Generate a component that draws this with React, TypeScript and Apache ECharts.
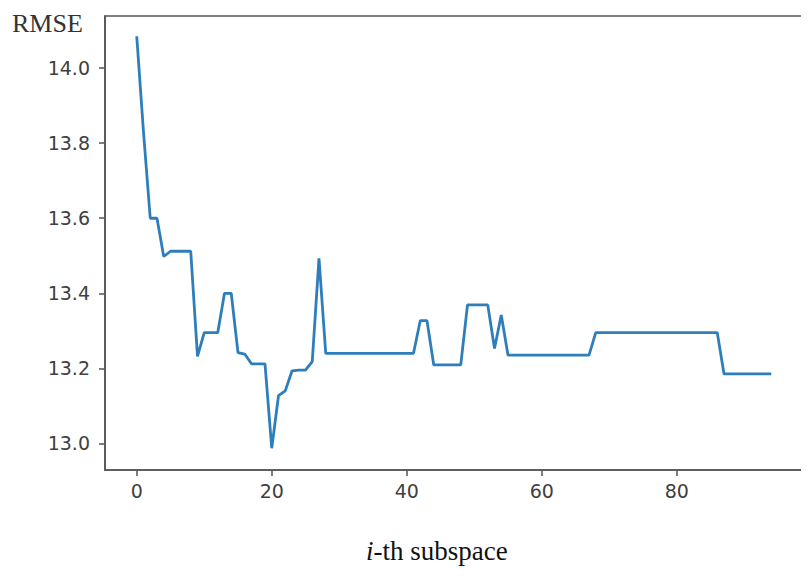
import React, { useEffect, useRef } from "react";
import * as echarts from "echarts";

const rmseValues: number[] = [
  14.085, 13.83, 13.6, 13.6, 13.498, 13.512, 13.512, 13.512, 13.512, 13.232,
  13.295, 13.295, 13.295, 13.4, 13.4, 13.242, 13.238, 13.212, 13.212, 13.212,
  12.987, 13.127, 13.14, 13.193, 13.195, 13.195, 13.218, 13.493, 13.24, 13.24,
  13.24, 13.24, 13.24, 13.24, 13.24, 13.24, 13.24, 13.24, 13.24, 13.24,
  13.24, 13.24, 13.327, 13.327, 13.209, 13.209, 13.209, 13.209, 13.209, 13.369,
  13.369, 13.369, 13.369, 13.253, 13.342, 13.235, 13.235, 13.235, 13.235, 13.235,
  13.235, 13.235, 13.235, 13.235, 13.235, 13.235, 13.235, 13.235, 13.295, 13.295,
  13.295, 13.295, 13.295, 13.295, 13.295, 13.295, 13.295, 13.295, 13.295, 13.295,
  13.295, 13.295, 13.295, 13.295, 13.295, 13.295, 13.295, 13.185, 13.185, 13.185,
  13.185, 13.185, 13.185, 13.185, 13.185,
];

const xTicks: number[] = [0, 20, 40, 60, 80];
const yTicks: number[] = [13.0, 13.2, 13.4, 13.6, 13.8, 14.0];

const yAxisTitle = "RMSE";
const xAxisTitlePrefix = "i";
const xAxisTitleRest = "-th subspace";

export default function App() {
  const ref = useRef<HTMLDivElement>(null);

  useEffect(() => {
    if (!ref.current) return;
    const chart = echarts.init(ref.current, undefined, { renderer: "svg" });
    const seriesData = rmseValues.map((v, i) => [i, v]);
    const frame = "#555555";
    const tickColor = "#404040";
    chart.setOption({
      animation: false,
      backgroundColor: "#ffffff",
      grid: {
        left: 105,
        top: 16,
        right: 6,
        bottom: 106,
        show: true,
        borderColor: frame,
        borderWidth: 1.6,
        backgroundColor: "transparent",
      },
      xAxis: {
        type: "value",
        min: -4.7,
        max: 98.7,
        axisLine: { show: true, onZero: false, lineStyle: { color: frame, width: 1.6 } },
        axisTick: {
          show: true,
          length: 6,
          customValues: xTicks,
          lineStyle: { color: frame, width: 1.5 },
        },
        axisLabel: {
          customValues: xTicks,
          color: tickColor,
          fontFamily: "DejaVu Sans",
          fontSize: 19,
          margin: 11,
          formatter: (v: number) => String(v),
        },
        splitLine: { show: false },
      },
      yAxis: {
        type: "value",
        min: 12.929,
        max: 14.139,
        axisLine: { show: true, onZero: false, lineStyle: { color: frame, width: 1.6 } },
        axisTick: {
          show: true,
          length: 6,
          customValues: yTicks,
          lineStyle: { color: frame, width: 1.5 },
        },
        axisLabel: {
          customValues: yTicks,
          color: tickColor,
          fontFamily: "DejaVu Sans",
          fontSize: 19,
          margin: 15,
          formatter: (v: number) => v.toFixed(1),
        },
        splitLine: { show: false },
      },
      graphic: [
        {
          type: "text",
          left: 12,
          top: 10,
          style: {
            text: yAxisTitle,
            fontFamily: "Liberation Serif",
            fontSize: 26,
            fill: "#333333",
          },
        },
        {
          type: "text",
          left: 366,
          top: 537,
          style: {
            text: "{it|" + xAxisTitlePrefix + "}{rm|" + xAxisTitleRest + "}",
            rich: {
              it: {
                fontFamily: "Liberation Serif",
                fontStyle: "italic",
                fontSize: 27,
                fill: "#111111",
              },
              rm: {
                fontFamily: "Liberation Serif",
                fontSize: 27,
                fill: "#111111",
              },
            },
          },
        },
      ],
      series: [
        {
          type: "line",
          data: seriesData,
          showSymbol: false,
          symbol: "none",
          lineStyle: { color: "#2e7ebc", width: 2.8 },
        },
      ],
    });
    return () => chart.dispose();
  }, []);

  return <div ref={ref} style={{ width: 809, height: 576, marginLeft: -8, marginTop: -8 }} />;
}
